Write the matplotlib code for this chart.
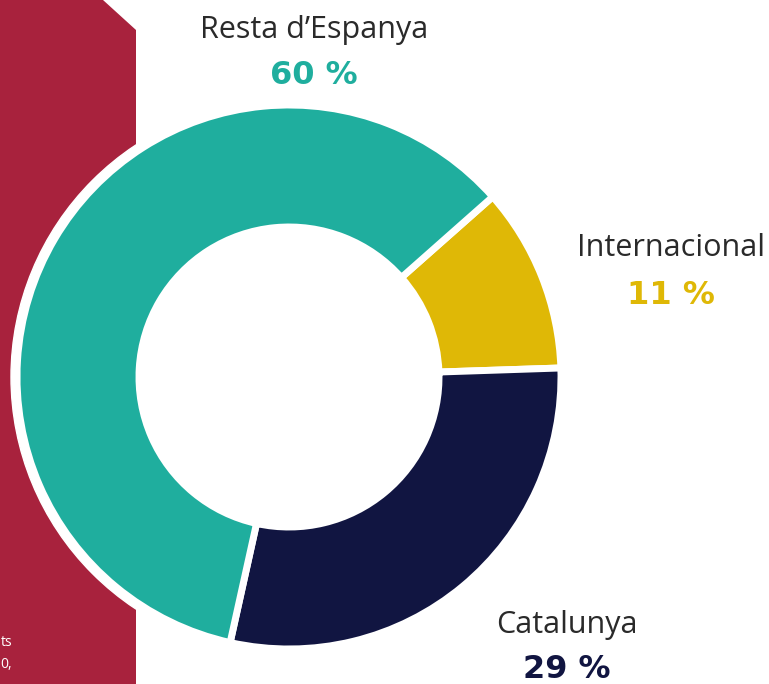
import matplotlib.pyplot as plt
from matplotlib.patches import Polygon, Circle

# data
labels = ["Internacional", "Catalunya", "Resta d\u2019Espanya"]
values = [11, 29, 60]
pct_text = ["11 %", "29 %", "60 %"]
colors = ["#DFB806", "#111541", "#1FAE9E"]

W, H = 769, 684
CRIMSON = "#A8223D"
TEXT = "#2a2a2a"


def Y(y):
    # picture rows go down, axis goes up
    return H - y


fig = plt.figure(figsize=(W / 100, H / 100), dpi=100)
ax = fig.add_axes([0, 0, 1, 1])

# crimson side panel with cut corner
panel = [(0, 0), (103, 0), (136, 30), (136, H), (0, H)]
ax.add_patch(Polygon([(x, Y(y)) for x, y in panel], closed=True,
                     color=CRIMSON, lw=0, zorder=1))

# small text left over on the panel
ax.text(0.5, Y(643), "ts", color="white", fontsize=10, ha="left",
        va="center", family="Open Sans", zorder=2)
ax.text(0.5, Y(665), "0,", color="white", fontsize=10, ha="left",
        va="center", family="Open Sans", zorder=2)

# donut
cx, cy, r = 289, Y(377), 272
ax.add_patch(Circle((cx, cy), r + 6, color="white", zorder=3))
ax.pie(
    values,
    colors=colors,
    startangle=41.5,
    counterclock=False,
    center=(cx, cy),
    radius=r,
    wedgeprops=dict(width=r - 150, edgecolor="white", linewidth=5,
                    zorder=4),
    frame=True,
)
ax.set_xlim(0, W)
ax.set_ylim(0, H)
ax.set_aspect("equal")
ax.axis("off")

# labels: (label x, label y, pct y)
pos = [(671, 248, 295), (567, 625, 670), (314, 30, 75)]
for (x, ly, py), lab, pt, c in zip(pos, labels, pct_text, colors):
    ax.text(x, Y(ly), lab, color=TEXT, fontsize=22, ha="center",
            va="center", family="Open Sans", zorder=5)
    ax.text(x, Y(py), pt, color=c, fontsize=23, ha="center",
            va="center", family="DejaVu Sans", fontweight="bold", zorder=5)

fig.savefig("out.png", dpi=100)
